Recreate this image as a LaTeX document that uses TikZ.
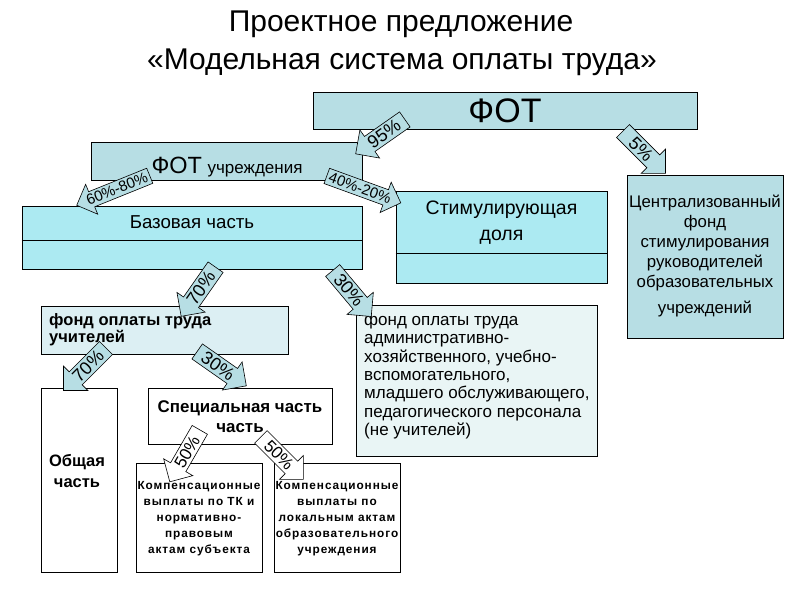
\documentclass[tikz,border=0pt]{standalone}
\usepackage{fontspec}
\setmainfont{Liberation Sans}
\usetikzlibrary{shapes.arrows}
\definecolor{fotc}{RGB}{183,222,228}
\definecolor{basec}{RGB}{172,234,242}
\definecolor{teachc}{RGB}{220,239,243}
\definecolor{adminc}{RGB}{233,245,245}
\newcommand{\fsz}[2]{\fontsize{#1}{#2}\selectfont}
\begin{document}
\begin{tikzpicture}[x=1pt,y=-1pt,
  box/.style={draw=black, line width=0.8pt, inner sep=0pt},
  txt/.style={inner sep=0pt, align=center},
  barrow/.style={single arrow, draw=black, line width=0.6pt, fill=fotc,
     inner sep=2.5pt, single arrow head extend=8pt, minimum height=60pt,
     font=\fsz{18}{18}},
  barrowL/.style={barrow, shape border rotate=180},
  warrow/.style={barrow, fill=white, font=\fsz{17}{17}},
  warrowL/.style={warrow, shape border rotate=180}
]
\useasboundingbox (0,0) rectangle (800,600);
% title
\node[txt, font=\fsz{30}{30}] (t1) at (401,24) {Проектное предложение};
\node[txt, font=\fsz{30}{30}] (t2) at (402,62) {«Модельная система оплаты труда»};
% FOT
\node[box, fill=fotc, minimum width=384pt, minimum height=37pt, font=\fsz{34}{34}] (fot) at (505,110.5) {ФОТ};
% FOT uchrezhdeniya
\node[box, fill=fotc, minimum width=271pt, minimum height=38pt] (fotu) at (226.5,161) {};
\node[txt] (fotut) at (227,167) {{\fsz{23.5}{23.5}ФОТ}\ \ {\fsz{17}{17}учреждения}};
% Bazovaya
\node[box, fill=basec, minimum width=340pt, minimum height=63pt] (base) at (192,237.5) {};
\draw[line width=0.8pt] (base.west |- 0,240) -- (base.east |- 0,240);
\node[txt, font=\fsz{18.7}{18.7}] (baset) at (192,222) {Базовая часть};
% Stimul
\node[box, fill=basec, minimum width=211pt, minimum height=92pt] (stim) at (501.5,237) {};
\draw[line width=0.8pt] (stim.west |- 0,253) -- (stim.east |- 0,253);
\node[txt, font=\fsz{19.5}{26}] (stimt) at (501.5,223) {Стимулирующая\\доля};
% Central fund
\node[box, fill=fotc, minimum width=156pt, minimum height=163pt] (cfund) at (705,256.5) {};
\node[txt, font=\fsz{16.8}{20}] (cfundt) at (705,256) {Централизованный\\фонд\\стимулирования\\руководителей\\образовательных\\[6pt]учреждений};
% teachers
\node[box, fill=teachc, minimum width=247pt, minimum height=48pt] (teach) at (164.5,330) {};
\node[txt, align=left, anchor=west, font=\bfseries\fsz{16.5}{17}] (teacht) at (49,330) {фонд оплаты труда\\учителей};
% admin
\node[box, fill=adminc, minimum width=241pt, minimum height=151pt] (admin) at (476.5,380.5) {};
\node[txt, align=left, anchor=north west, font=\fsz{17}{18.3}] (admint) at (364,313) {фонд оплаты труда\\административно-\\хозяйственного, учебно-\\вспомогательного,\\младшего обслуживающего,\\педагогического персонала\\(не учителей)};
% obshaya
\node[box, fill=white, minimum width=76pt, minimum height=184pt] (obsh) at (79,480) {};
\node[txt, font=\bfseries\fsz{16.5}{21}] (obsht) at (77,471) {Общая\\часть};
% special
\node[box, fill=white, minimum width=184pt, minimum height=56pt] (spec) at (240,416) {};
\node[txt, font=\bfseries\fsz{16.9}{20}] (spect) at (240,417) {Специальная часть\\часть};
% kompens
\node[box, fill=white, minimum width=126pt, minimum height=109pt] (komp1) at (199,517.5) {};
\node[txt, font=\bfseries\fsz{11.8}{16}\addfontfeature{LetterSpace=8}] (komp1t) at (199,519) {Компенсационные\\выплаты по ТК и\\нормативно-\\правовым\\актам субъекта};
\node[box, fill=white, minimum width=126pt, minimum height=109pt] (komp2) at (337,517.5) {};
\node[txt, font=\bfseries\fsz{11.8}{16}\addfontfeature{LetterSpace=8}] (komp2t) at (337,519) {Компенсационные\\выплаты по\\локальным актам\\образовательного\\учреждения};
% block arrows
\node[barrowL, rotate=35] (a95) at (384,134) {95\%};
\node[barrow, rotate=-45] (a5) at (641,149) {5\%};
\node[barrowL, rotate=22, minimum height=78pt, font=\fsz{15}{15}] (a6080) at (117,189) {60\%-80\%};
\node[barrow, rotate=-20, minimum height=78pt, font=\fsz{15}{15}] (a4020) at (360,188) {40\%-20\%};
\node[barrowL, rotate=55] (a70a) at (201,288) {70\%};
\node[barrow, rotate=-50] (a30a) at (349,290) {30\%};
\node[barrowL, rotate=45] (a70b) at (88,366) {70\%};
\node[barrow, rotate=-35] (a30b) at (218,366) {30\%};
\node[warrowL, rotate=60] (a50a) at (187,452) {50\%};
\node[warrow, rotate=-45] (a50b) at (279,455) {50\%};
\end{tikzpicture}
\end{document}
